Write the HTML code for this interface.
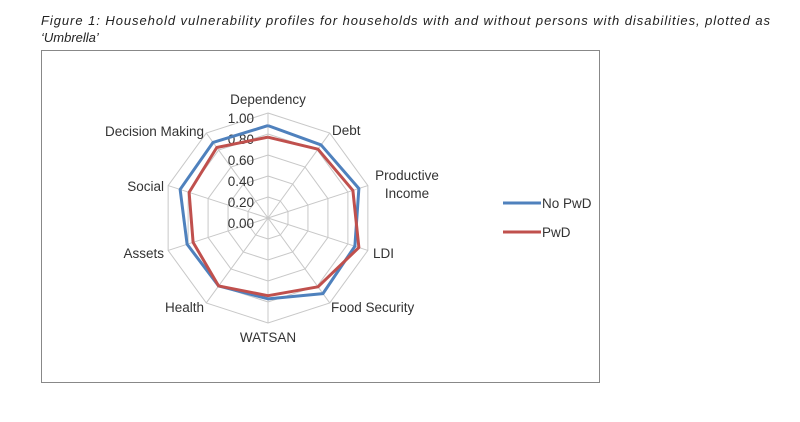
<!DOCTYPE html>
<html><head><meta charset="utf-8"><style>
body{margin:0;background:#fff;width:800px;height:417px;overflow:hidden;font-family:"Liberation Sans",sans-serif}
</style></head><body>
<svg id="s" width="800" height="417" xmlns="http://www.w3.org/2000/svg" font-family="Liberation Sans, sans-serif">
<text x="41" y="25" font-size="13" font-style="italic" fill="#222" textLength="729" lengthAdjust="spacing">Figure 1: Household vulnerability profiles for households with and without persons with disabilities, plotted as</text>
<text x="41" y="42" font-size="13" font-style="italic" fill="#222">‘Umbrella’</text>
<rect x="41.5" y="50.5" width="558" height="332" fill="#fff" stroke="#888" stroke-width="1"/>
<g id="grid" stroke="#c8c8c8" fill="none" stroke-width="1"></g>
<g font-size="13.5" fill="#333" text-anchor="end">
<text x="254" y="123">1.00</text><text x="254" y="144">0.80</text><text x="254" y="165">0.60</text>
<text x="254" y="186">0.40</text><text x="254" y="207">0.20</text><text x="254" y="228">0.00</text>
</g>
<polyline id="blue" fill="none" stroke="#4f81bd" stroke-width="3" stroke-linejoin="round"/>
<polyline id="red" fill="none" stroke="#c0504d" stroke-width="3" stroke-linejoin="round"/>
<g font-size="13.5" fill="#333">
<text x="268" y="104" text-anchor="middle">Dependency</text>
<text x="332" y="135">Debt</text>
<text x="407" y="180" text-anchor="middle">Productive</text>
<text x="407" y="198" text-anchor="middle">Income</text>
<text x="373" y="258">LDI</text>
<text x="331" y="312">Food Security</text>
<text x="268" y="342" text-anchor="middle">WATSAN</text>
<text x="204" y="312" text-anchor="end">Health</text>
<text x="164" y="258" text-anchor="end">Assets</text>
<text x="164" y="191" text-anchor="end">Social</text>
<text x="204" y="136" text-anchor="end">Decision Making</text>
<line x1="503" y1="203" x2="541" y2="203" stroke="#4f81bd" stroke-width="3"/>
<text x="542" y="208">No PwD</text>
<line x1="503" y1="232" x2="541" y2="232" stroke="#c0504d" stroke-width="3"/>
<text x="542" y="237">PwD</text>
</g>
</svg>
<script>
var cx=268,cy=218,R=105,ns="http://www.w3.org/2000/svg",g=document.getElementById('grid');
function pt(i,r){var a=i*Math.PI/5;return [cx+r*Math.sin(a),cy-r*Math.cos(a)];}
for(var k=1;k<=5;k++){var p=[];for(var i=0;i<10;i++)p.push(pt(i,R*k/5).join(','));var e=document.createElementNS(ns,'polygon');e.setAttribute('points',p.join(' '));g.appendChild(e);}
for(var i=0;i<10;i++){var q=pt(i,R),l=document.createElementNS(ns,'line');l.setAttribute('x1',cx);l.setAttribute('y1',cy);l.setAttribute('x2',q[0]);l.setAttribute('y2',q[1]);g.appendChild(l);}
function poly(id,v){var p=[];for(var i=0;i<=10;i++)p.push(pt(i%10,R*v[i%10]).join(','));document.getElementById(id).setAttribute('points',p.join(' '));}
poly('blue',[0.88,0.86,0.91,0.87,0.89,0.77,0.80,0.81,0.88,0.89]);
poly('red',[0.77,0.81,0.85,0.91,0.81,0.74,0.80,0.75,0.79,0.83]);
</script>
</body></html>
